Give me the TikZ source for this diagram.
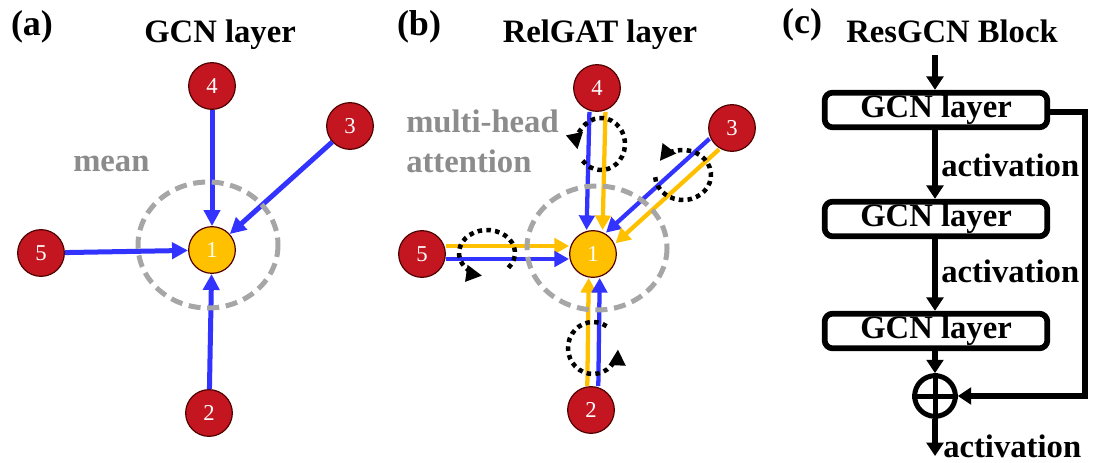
\documentclass[tikz,border=0pt]{standalone}
\usepackage{fontspec}
\setmainfont{Liberation Serif}
\usetikzlibrary{arrows.meta,calc}
\definecolor{nodered}{RGB}{196,22,32}
\definecolor{nodeborder}{RGB}{80,0,0}
\definecolor{nodeyellow}{RGB}{255,192,0}
\definecolor{edgeblue}{RGB}{51,51,255}
\definecolor{ringgray}{RGB}{166,166,166}
\definecolor{textgray}{RGB}{140,140,140}
\begin{document}
\begin{tikzpicture}[x=0.75pt,y=-0.75pt,
  big/.style={font=\fontsize{24.5}{28}\selectfont\bfseries, inner sep=0},
  label/.style={font=\fontsize{27}{30}\selectfont\bfseries, inner sep=0},
  graytext/.style={big, text=textgray},
  gnode/.style={circle, minimum size=35pt, inner sep=0, draw=nodeborder, line width=0.9pt, text=white, font=\fontsize{17}{18}\selectfont},
  rnode/.style={gnode, fill=nodered},
  cnode/.style={gnode, fill=nodeyellow},
  aedge/.style={edgeblue, line width=3.75pt, -{Triangle[length=12pt,width=12pt]}},
  bedge/.style={line width=3.2pt, -{Triangle[length=11pt,width=11.5pt]}},
  ring/.style={ringgray, line width=3.75pt, dash pattern=on 9pt off 5pt},
  att/.style={black, line width=3.4pt, dash pattern=on 3.4pt off 3.2pt, -{Triangle[length=12pt,width=12pt]}},
  box/.style={draw, line width=4.3pt, rounded corners=6pt, minimum width=167pt, minimum height=26pt, inner sep=0, big},
  flow/.style={line width=4.3pt, -{Triangle[length=10pt,width=12.5pt]}},
]
\useasboundingbox (0,0) rectangle (1095,463);

% ---------------- (a) ----------------
\node[label, anchor=base] (la) at (32,36) {(a)};
\node[big, anchor=base] (ta) at (220,43) {GCN layer};
\node[cnode] (a1) at (212,250) {1};
\node[rnode] (a2) at (209,413) {2};
\node[rnode] (a3) at (350,126) {3};
\node[rnode] (a4) at (212,86) {4};
\node[rnode] (a5) at (41,253) {5};
\foreach \s in {a2,a3,a4,a5} \draw[aedge] (\s) -- (a1);
\draw[ring] (208,245) ellipse [x radius=70, y radius=63];
\node[graytext, anchor=base west] (mean) at (73,172) {mean};

% ---------------- (b) ----------------
\node[label, anchor=base] (lb) at (419,36) {(b)};
\node[big, anchor=base] (tb) at (600,43) {RelGAT layer};
\node[cnode] (b1) at (593,254) {1};
\node[rnode] (b2) at (591,410) {2};
\node[rnode] (b3) at (732,128) {3};
\node[rnode] (b4) at (597,88) {4};
\node[rnode] (b5) at (422,254) {5};
% node 4
\draw[bedge, edgeblue, transform canvas={shift={(-7,0)}}] (b4) -- (b1);
\draw[bedge, nodeyellow, transform canvas={shift={(9,0)}}] (b4) -- (b1);
% node 3
\draw[bedge, edgeblue, transform canvas={shift={(-4.8,-5.3)}}] (b3) -- (b1);
\draw[bedge, nodeyellow, transform canvas={shift={(4.8,5.3)}}] (b3) -- (b1);
% node 5
\draw[bedge, nodeyellow, transform canvas={shift={(0,-8)}}] (b5) -- (b1);
\draw[bedge, edgeblue, transform canvas={shift={(0,5)}}] (b5) -- (b1);
% node 2
\draw[bedge, nodeyellow, transform canvas={shift={(-4,0)}}] (b2) -- (b1);
\draw[bedge, edgeblue, transform canvas={shift={(7,0)}}] (b2) -- (b1);
\draw[ring] (597,248) ellipse [x radius=70, y radius=62];
% attention arcs
\coordinate (h4) at (601,144);
\coordinate (h3) at (683,175);
\coordinate (h5) at (487,253);
\coordinate (h2) at (593,348);
\draw[att] (h4) ++(-220:24 and 26) arc[start angle=-220, end angle=-552, x radius=24, y radius=26];
\draw[att] (h3) ++(-185:28 and 25) arc[start angle=-185, end angle=-506, x radius=28, y radius=25];
\draw[att] (h5) ++(40:28 and 23) arc[start angle=40, end angle=-260, x radius=28, y radius=23];
\draw[att] (h2) ++(-57:25 and 26) arc[start angle=-57, end angle=-357, x radius=25, y radius=26];
\node[graytext, anchor=base west] (mh) at (406,133) {multi-head};
\node[graytext, anchor=base west] (at) at (406,173) {attention};

% ---------------- (c) ----------------
\node[label, anchor=base] (lc) at (802,34) {(c)};
\node[big, anchor=base] (tc) at (952,43) {ResGCN Block};
\node[box] (g1) at (936,110) {GCN layer};
\node[box] (g2) at (936,219) {GCN layer};
\node[box] (g3) at (936,331) {GCN layer};
\node[circle, draw, line width=3.75pt, minimum size=30.5pt, inner sep=0] (plus) at (935,396) {};
\draw[line width=3.75pt] (plus.north) -- (plus.south) (plus.west) -- (plus.east);
\coordinate (cin) at (935,55);
\coordinate (cout) at (935,456);
\coordinate (skip) at (1085,112);
\draw[flow] (cin) -- (g1.north -| cin);
\draw[flow] (g1.south -| cin) -- (g2.north -| cin);
\draw[flow] (g2.south -| cin) -- (g3.north -| cin);
\draw[flow] (g3.south -| cin) -- (plus.north);
\draw[flow] (plus.south) -- (cout);
\draw[flow] (g1.east |- skip) -- (skip) |- (plus.east);
\node[big, anchor=west] (act1) at (941,165) {activation};
\node[big, anchor=west] (act2) at (941,271) {activation};
\node[big, anchor=west] (act3) at (943,446) {activation};
\end{tikzpicture}
\end{document}
